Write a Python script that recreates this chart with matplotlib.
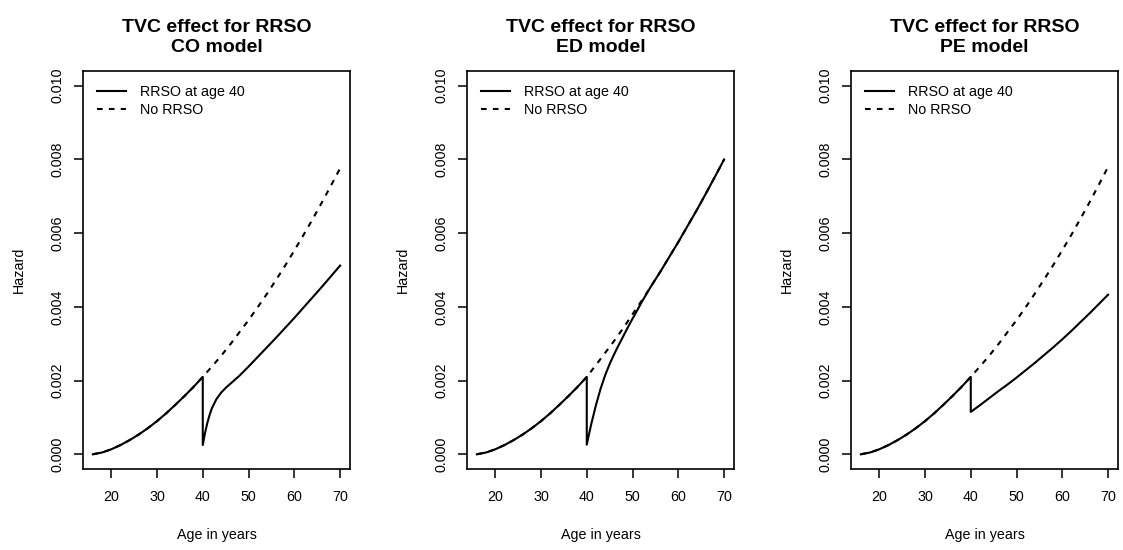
import matplotlib
matplotlib.use("Agg")
import matplotlib.pyplot as plt

plt.rcParams['font.family'] = ['Liberation Sans', 'DejaVu Sans']

# shared hazard before RRSO (ages 16..40)
age_pre = [16, 18, 20, 22, 24, 26, 28, 30, 32, 34, 36, 38, 40]
hazard_pre = [0.0, 0.000048, 0.000134, 0.000248, 0.000382, 0.000535, 0.000707,
              0.000898, 0.00111, 0.00134, 0.00158, 0.00183, 0.00210]

# no RRSO continuation after 40
age_after = [40, 42, 44, 46, 48, 50, 52, 54, 56, 58, 60, 62, 64, 66, 68, 70]
no_rrso_co = [0.00210, 0.00238, 0.00267, 0.00298, 0.00331, 0.00364, 0.00399, 0.00435,
              0.00473, 0.00512, 0.00553, 0.00595, 0.00638, 0.00683, 0.00729, 0.00776]
no_rrso_ed = [0.00210, 0.00242, 0.00275, 0.00308, 0.00343, 0.00380, 0.00417, 0.00455,
              0.00494, 0.00535, 0.00576, 0.00619, 0.00662, 0.00707, 0.00753, 0.00800]
no_rrso_pe = [0.00210, 0.00238, 0.00267, 0.00298, 0.00331, 0.00364, 0.00399, 0.00436,
              0.00474, 0.00513, 0.00554, 0.00596, 0.00640, 0.00685, 0.00732, 0.00780]

# RRSO at age 40
age_rrso_co = [40, 40.5, 41, 41.5, 42, 43, 44, 45, 46, 47, 48, 50, 52, 54, 56, 58, 60, 62, 64, 66, 68, 70]
rrso_co = [0.00025, 0.00058, 0.00085, 0.00107, 0.00125, 0.00150, 0.00167, 0.00180, 0.00191,
           0.00202, 0.00213, 0.00238, 0.00264, 0.00290, 0.00316, 0.00343, 0.00370, 0.00398,
           0.00426, 0.00454, 0.00483, 0.00512]
age_rrso_ed = [40, 40.5, 41, 42, 43, 44, 45, 46, 47, 48, 49, 50, 51, 52, 54, 56, 58, 60, 62, 64, 66, 68, 70]
rrso_ed = [0.00026, 0.00055, 0.00083, 0.00133, 0.00177, 0.00214, 0.00245, 0.00272, 0.00297,
           0.00321, 0.00345, 0.00368, 0.00390, 0.00413, 0.00455, 0.00494, 0.00535, 0.00576,
           0.00619, 0.00662, 0.00707, 0.00753, 0.00800]
age_rrso_pe = [40, 42, 44, 46, 48, 50, 52, 54, 56, 58, 60, 62, 64, 66, 68, 70]
rrso_pe = [0.00115, 0.00133, 0.00152, 0.00171, 0.00189, 0.00208, 0.00228, 0.00248,
           0.00269, 0.00290, 0.00312, 0.00335, 0.00359, 0.00383, 0.00408, 0.00433]

models = ["CO", "ED", "PE"]
no_rrso = [no_rrso_co, no_rrso_ed, no_rrso_pe]
rrso_ages = [age_rrso_co, age_rrso_ed, age_rrso_pe]
rrso = [rrso_co, rrso_ed, rrso_pe]

x_ticks = [20, 30, 40, 50, 60, 70]
y_ticks = [0.000, 0.002, 0.004, 0.006, 0.008, 0.010]

fig = plt.figure(figsize=(11.23, 5.5), dpi=100)
W, H = 1123.0, 550.0
lefts = [83, 467, 851]
fs = 10.3
lw = 1.5
dash = (0, (2.7, 3.0))

for i, m in enumerate(models):
    ax = fig.add_axes([lefts[i] / W, 81 / H, 267 / W, 398 / H])
    ax.plot(age_pre + age_after[1:], hazard_pre + no_rrso[i][1:], color='black',
            lw=lw, linestyle=dash, label='No RRSO')
    ax.plot(age_pre + rrso_ages[i], hazard_pre + rrso[i], color='black', lw=lw,
            label='RRSO at age 40')
    ax.set_xlim(13.84, 72.16)
    ax.set_ylim(-0.0004, 0.0104)
    ax.set_xticks(x_ticks)
    ax.set_xticklabels([str(v) for v in x_ticks], fontsize=fs)
    ax.set_yticks(y_ticks)
    ax.set_yticklabels(["%.3f" % v for v in y_ticks], fontsize=fs, rotation=90, va='center')
    ax.tick_params(direction='out', length=6.5, width=1.1)
    ax.tick_params(axis='x', pad=8.5)
    ax.tick_params(axis='y', pad=7)
    for s in ax.spines.values():
        s.set_linewidth(1.2)
    ax.set_title("TVC effect for RRSO\n%s model" % m, fontsize=14, fontweight='bold',
                 pad=14, linespacing=1.2)
    ax.set_xlabel("Age in years", fontsize=fs, va='center')
    ax.xaxis.set_label_coords(0.5, -66 / 398)
    ax.set_ylabel("Hazard", fontsize=fs, va='center')
    ax.yaxis.set_label_coords(-64 / 267, 0.5)
    h, l = ax.get_legend_handles_labels()
    ax.legend(h[::-1], l[::-1], loc='upper left', frameon=False, fontsize=fs,
              bbox_to_anchor=(14 / 267, 0.966), borderaxespad=0, borderpad=0,
              handlelength=2.05, handletextpad=0.95, labelspacing=0.34)

fig.savefig("out.png", dpi=100)
